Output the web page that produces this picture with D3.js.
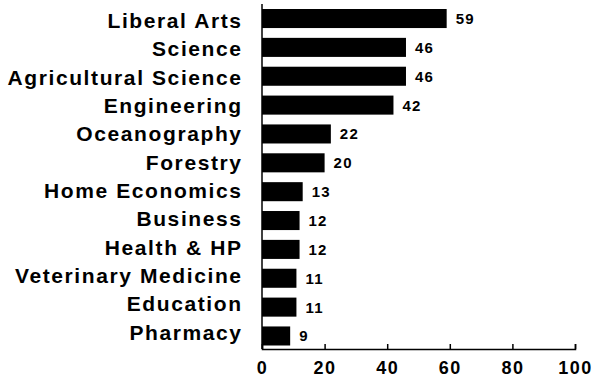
<!DOCTYPE html>
<html>
<head>
<meta charset="utf-8">
<script src="https://cdn.jsdelivr.net/npm/d3@7"></script>
<style>
  html, body { margin: 0; padding: 0; background: #fff; }
  svg { display: block; }
  text { fill: #000; font-family: "Liberation Sans", Arial, sans-serif; }
</style>
</head>
<body>
<svg id="chart" width="596" height="378"></svg>
<script>
// Colleges and their counts, top to bottom
const categories = [
  "Liberal Arts", "Science", "Agricultural Science", "Engineering",
  "Oceanography", "Forestry", "Home Economics", "Business",
  "Health & HP", "Veterinary Medicine", "Education", "Pharmacy"
];
const values = [59, 46, 46, 42, 22, 20, 13, 12, 12, 11, 11, 9];
const xTicks = [0, 20, 40, 60, 80, 100];

const svg = d3.select("#chart");
const plot = { left: 262, right: 575, top: 4, bottom: 349 };

const x = d3.scaleLinear().domain([0, 100]).range([plot.left, plot.right]);
const y = d3.scaleBand().domain(categories).range([9, 345.5]).paddingInner(0.34).paddingOuter(0);
// category names sit on a slightly tighter rhythm than the bars
const yLabel = d3.scalePoint().domain(categories).range([20.5, 332]);

const rows = categories.map((c, i) => ({ name: c, value: values[i] }));

// bars
svg.append("g").selectAll("rect").data(rows).join("rect")
  .attr("x", x(0))
  .attr("y", d => y(d.name))
  .attr("width", d => x(d.value) - x(0))
  .attr("height", y.bandwidth())
  .attr("fill", "#000");

// value labels
svg.append("g").selectAll("text").data(rows).join("text")
  .attr("x", d => x(d.value) + 9)
  .attr("y", d => y(d.name) + y.bandwidth() / 2)
  .attr("dy", "0.36em")
  .attr("font-size", 15)
  .attr("font-weight", "bold")
  .attr("letter-spacing", 1.2)
  .text(d => d.value);

// category labels
const ls = 1.6;
svg.append("g").selectAll("text").data(rows).join("text")
  .attr("x", 241 + ls)
  .attr("y", d => yLabel(d.name))
  .attr("dy", "0.36em")
  .attr("text-anchor", "end")
  .attr("font-size", 21)
  .attr("font-weight", "bold")
  .attr("letter-spacing", ls)
  .text(d => d.name);

// left axis line
svg.append("line")
  .attr("x1", plot.left).attr("x2", plot.left)
  .attr("y1", plot.top).attr("y2", plot.bottom)
  .attr("stroke", "#000").attr("stroke-width", 1.5);

// bottom axis with inward ticks
const xAxis = d3.axisBottom(x).tickValues(xTicks).tickSize(-5).tickPadding(12).tickFormat(d3.format("d"));
const gx = svg.append("g").attr("transform", `translate(0,${plot.bottom})`).call(xAxis);
gx.select(".domain").attr("stroke", "#000").attr("stroke-width", 1.5);
gx.selectAll(".tick line").attr("stroke", "#000").attr("stroke-width", 1.5);
gx.selectAll(".tick text")
  .attr("font-size", 18)
  .attr("font-weight", "bold")
  .attr("letter-spacing", 1.5)
  .attr("font-family", "Liberation Sans, Arial, sans-serif")
  .attr("fill", "#000");
</script>
</body>
</html>
